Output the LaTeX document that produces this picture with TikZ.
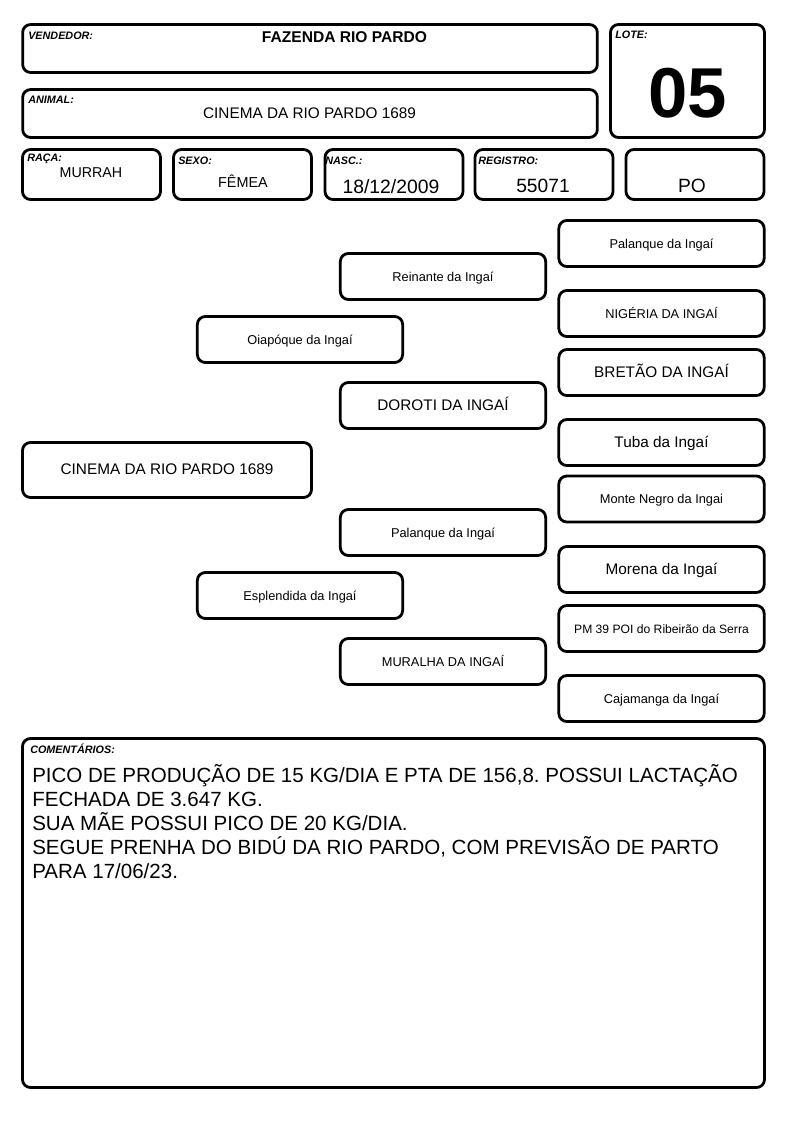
\documentclass[tikz,border=0pt]{standalone}
\usepackage{fontspec}
\setmainfont{Liberation Sans}
\frenchspacing
\begin{document}
\begin{tikzpicture}
[
x=0.75pt, y=-0.75pt,
every node/.style={inner sep=0pt},
frame/.style={draw, line width=2.1pt, rounded corners=6pt},
tag/.style={anchor=base west, font=\fontsize{8.1}{9}\selectfont\bfseries\itshape},
field/.style={anchor=base, font=\fontsize{#1}{#1}\selectfont},
ped/.style={frame, minimum width=154pt, minimum height=34.5pt, text height=0.72em, text depth=0pt},
namesmall/.style={font=\fontsize{9.6}{11}\selectfont},
namebig/.style={font=\fontsize{11.5}{13}\selectfont}
]
\useasboundingbox (0,0) rectangle (794,1123);

\node[frame, minimum width=431pt, minimum height=36pt] (vend) at (310,48.5) {};
\node[frame, minimum width=115.5pt, minimum height=84.75pt] (lote) at (687.5,81) {};
\node[frame, minimum width=431pt, minimum height=36pt] (ani) at (310,113.5) {};
\foreach \n/\cx in {raca/91.5, sexo/242.5, nasc/394, reg/544, po/695}
	\node[frame, minimum width=103.5pt, minimum height=37.5pt] (\n) at (\cx,174.5) {};
\node[frame, minimum width=556.5pt, minimum height=261.75pt] (com) at (393.5,913) {};

\node[tag] (vendtag) at (28,40) {VENDEDOR:};
\node[tag] (lotetag) at (615,39) {LOTE:};
\node[tag] (anitag) at (28,104) {ANIMAL:};
\node[tag] (racatag) at (27,162) {RAÇA:};
\node[tag] (sexotag) at (178,165) {SEXO:};
\node[tag] (nasctag) at (325,165) {NASC.:};
\node[tag] (regtag) at (478,165) {REGISTRO:};
\node[tag] (comtag) at (30,753) {COMENTÁRIOS:};

\node[field=11.7] (seller) at (344.5,43) {\bfseries FAZENDA RIO PARDO};
\node[field=53] (lotno) at (687.5,118) {\bfseries 05};
\node[field=11.5] (aniname) at (309.5,119) {CINEMA DA RIO PARDO 1689};
\node[field=10.7] (racaval) at (91,178) {MURRAH};
\node[field=10.8] (sexoval) at (243,188) {FÊMEA};
\node[field=14.5] (nascval) at (391,194) {18/12/2009};
\node[field=14.4] (regval) at (543,193) {55071};
\node[field=14.4] (poval) at (692,193) {PO};

\node[ped, namebig, minimum width=216.75pt, minimum height=41.25pt] (cin) at (167,470) {CINEMA DA RIO PARDO 1689};
\node[ped, namesmall] (oia) at (300,339.5) {Oiapóque da Ingaí};
\node[ped, namesmall] (esp) at (300,595.5) {Esplendida da Ingaí};
\node[ped, namesmall] (rei) at (443,276.5) {Reinante da Ingaí};
\node[ped, namebig] (dor) at (443,405.5) {DOROTI DA INGAÍ};
\node[ped, namesmall] (pal2) at (443,532.5) {Palanque da Ingaí};
\node[ped, namesmall] (mur) at (443,661.5) {MURALHA DA INGAÍ};
\node[ped, namesmall] (pal1) at (661.5,243.5) {Palanque da Ingaí};
\node[ped, namesmall] (nig) at (661.5,313.5) {NIGÉRIA DA INGAÍ};
\node[ped, namebig] (bre) at (661.5,372.5) {BRETÃO DA INGAÍ};
\node[ped, namebig] (tub) at (661.5,442.5) {Tuba da Ingaí};
\node[ped, namesmall] (mon) at (661.5,499) {Monte Negro da Ingai};
\node[ped, namebig] (mor) at (661.5,569.5) {Morena da Ingaí};
\node[ped, font=\fontsize{9.1}{11}\selectfont] (pm) at (661.5,628.5) {PM 39 POI do Ribeirão da Serra};
\node[ped, namesmall] (caj) at (661.5,698.5) {Cajamanga da Ingaí};

\foreach \ln [count=\i] in {{PICO DE PRODUÇÃO DE 15 KG/DIA E PTA DE 156,8. POSSUI LACTAÇÃO}, {FECHADA DE 3.647 KG.}, {SUA MÃE POSSUI PICO DE 20 KG/DIA.}, {SEGUE PRENHA DO BIDÚ DA RIO PARDO, COM PREVISÃO DE PARTO}, {PARA 17/06/23.}}
	\node[field=15.4, anchor=base west] (line\i) at (32,{782+24*(\i-1)}) {\ln};
\end{tikzpicture}
\end{document}
